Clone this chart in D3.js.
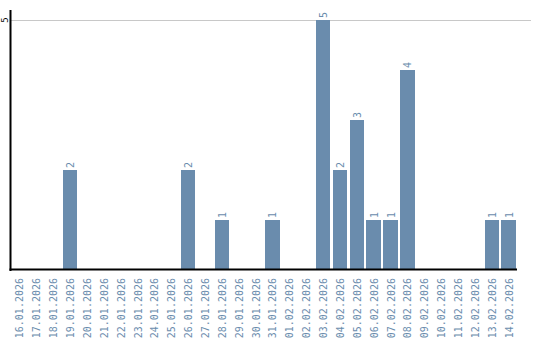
<!DOCTYPE html>
<html><head><meta charset="utf-8">
<script src="https://cdn.jsdelivr.net/npm/d3@7"></script>
<style>body{margin:0;background:#fff}svg{display:block}text{font-family:"DejaVu Sans Mono",monospace;}</style>
</head><body><svg id="c" width="540" height="340"></svg>
<script>
const dates = ["16.01.2026","17.01.2026","18.01.2026","19.01.2026","20.01.2026","21.01.2026","22.01.2026","23.01.2026","24.01.2026","25.01.2026","26.01.2026","27.01.2026","28.01.2026","29.01.2026","30.01.2026","31.01.2026","01.02.2026","02.02.2026","03.02.2026","04.02.2026","05.02.2026","06.02.2026","07.02.2026","08.02.2026","09.02.2026","10.02.2026","11.02.2026","12.02.2026","13.02.2026","14.02.2026"];
const counts = [0,0,0,2,0,0,0,0,0,0,2,0,1,0,0,1,0,0,5,2,3,1,1,4,0,0,0,0,1,1];
const yTicks = [5];

(function(){
const svg = d3.select("#c");
const mL = 11, mR = 517, mT = 20, mB = 270;
const x = d3.scaleBand().domain(dates).range([mL, mR]).paddingInner(0.15).paddingOuter(0.075);
const y = d3.scaleLinear().domain([0, 5]).range([mB, mT]);
const col = "#6a8cad";

svg.selectAll(".grid").data(yTicks).join("line")
  .attr("x1", mL).attr("x2", 531).attr("y1", d => y(d)).attr("y2", d => y(d))
  .attr("stroke", "#c8c8c8").attr("stroke-width", 1).attr("shape-rendering","crispEdges");

const data = dates.map((d,i)=>({d, v: counts[i]})).filter(o=>o.v>0);
svg.selectAll(".bar").data(data).join("rect")
  .attr("x", o => x(o.d)).attr("width", x.bandwidth())
  .attr("y", o => y(o.v)).attr("height", o => y(0) - y(o.v))
  .attr("fill", col).attr("shape-rendering","crispEdges");

svg.selectAll(".vl").data(data).join("text")
  .attr("transform", o => `translate(${x(o.d)+x.bandwidth()/2+4},${y(o.v)-2}) rotate(-90)`)
  .attr("font-size", 10).attr("fill", col).text(o => o.v);

svg.append("line").attr("x1", mL-0.5).attr("x2", mL-0.5).attr("y1", 10).attr("y2", mB+1)
  .attr("stroke","#000").attr("stroke-width",2);
svg.append("line").attr("x1", mL-1.5).attr("x2", mR).attr("y1", mB-0.5).attr("y2", mB-0.5)
  .attr("stroke","#000").attr("stroke-width",2);

svg.selectAll(".yl").data(yTicks).join("text")
  .attr("transform", d => `translate(8,${y(d)}) rotate(-90)`)
  .attr("text-anchor","middle").attr("font-size",9).attr("fill","#000").text(d=>d);

svg.selectAll(".xl").data(dates).join("text")
  .attr("transform", d => `translate(${x(d)+x.bandwidth()/2+4},278) rotate(-90)`)
  .attr("text-anchor","end").attr("font-size",10).attr("fill", col).text(d=>d);
})();
</script></body></html>
